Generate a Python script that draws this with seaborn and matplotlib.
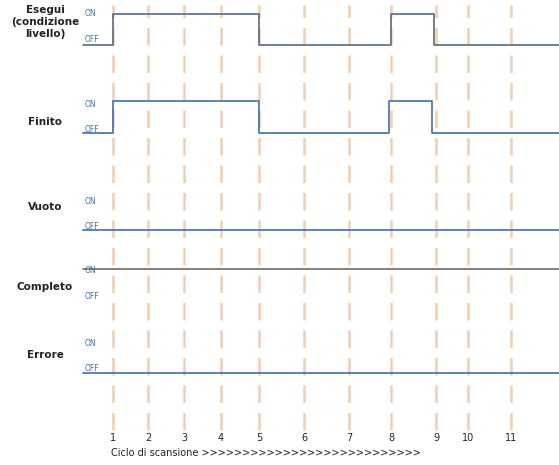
import matplotlib.pyplot as plt
import seaborn as sns
import pandas as pd

sns.set_style("white")
plt.rcParams['font.family'] = ['DejaVu Sans']

# scan cycle numbers and where each one sits on the time axis
cycles = [1, 2, 3, 4, 5, 6, 7, 8, 9, 10, 11]
cycle_pos = [113, 148, 184, 221, 259, 304, 349, 391, 436, 468, 511]

signals = ["Esegui\n(condizione\nlivello)", "Finito", "Vuoto", "Completo", "Errore"]
# state changes: (time, state) with 1 = ON, 0 = OFF
esegui = [(83, 0), (113, 1), (259, 0), (391, 1), (434, 0), (559, 0)]
finito = [(83, 0), (113, 1), (259, 0), (389, 1), (432, 0), (559, 0)]
vuoto = [(83, 0), (559, 0)]
completo = [(83, 1), (559, 1)]
errore = [(83, 0), (559, 0)]
states = [esegui, finito, vuoto, completo, errore]

# vertical levels for each row (ON, OFF)
on_y = [14, 101, 201, 269, 343]
off_y = [45, 133, 230, 296, 373]
label_on_y = [14, 104, 201, 270, 343]
label_off_y = [40, 129, 226, 296, 368]
name_y = [22, 122, 207, 287, 355]
colors = ["#5a6a80", "#3f6ea8", "#3f6ea8", "#6b6b6b", "#3f6ea8"]

fig = plt.figure(figsize=(5.59, 4.65), dpi=100)
ax = fig.add_axes([0, 0, 1, 1])

for p in cycle_pos:
    ax.axvline(p, ymin=1 - 430 / 465, ymax=1 - 5 / 465, color="#f2cdb0",
               linestyle=(0, (7, 4)), lw=1.8, zorder=0)

for i in range(len(signals)):
    df = pd.DataFrame(states[i], columns=["t", "s"])
    df["y"] = [on_y[i] if s else off_y[i] for s in df["s"]]
    sns.lineplot(data=df, x="t", y="y", drawstyle="steps-post", ax=ax,
                 color=colors[i], lw=1.2, estimator=None, sort=False)
    ax.text(45, name_y[i], signals[i], ha="center", va="center",
            fontsize=7.5, fontweight="bold", color="#222222")
    ax.text(85, label_on_y[i], "ON", fontsize=5.5, color="#3f6ea8", va="center")
    ax.text(85, label_off_y[i], "OFF", fontsize=5.5, color="#3f6ea8", va="center")

ax.set_xlim(0, 559)
ax.set_ylim(465, 0)
ax.axis("off")

for c, p in zip(cycles, cycle_pos):
    ax.text(p, 438, str(c), ha="center", va="center", fontsize=7, color="#222222")
ax.text(111, 453, "Ciclo di scansione >>>>>>>>>>>>>>>>>>>>>>>>>>>",
        fontsize=7, va="center", color="#222222")

fig.savefig("out.png", dpi=100)
